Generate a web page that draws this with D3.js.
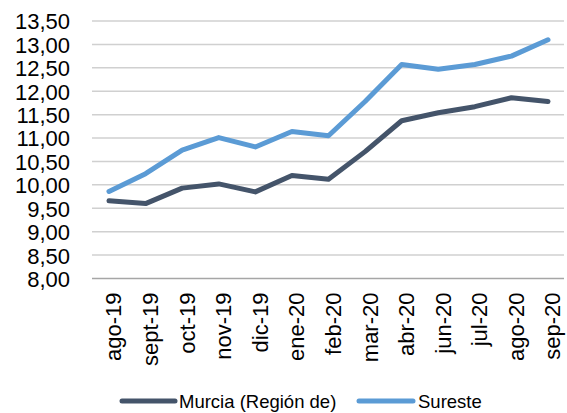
<!DOCTYPE html>
<html><head><meta charset="utf-8">
<script src="https://cdn.jsdelivr.net/npm/d3@7/dist/d3.min.js"></script>
<style>html,body{margin:0;padding:0;background:#fff;}svg{display:block;font-family:"Liberation Sans",Arial,sans-serif;}</style>
</head><body>
<svg id="c" width="567" height="413"></svg>
<script>
const categories = ["ago-19","sept-19","oct-19","nov-19","dic-19","ene-20","feb-20","mar-20","abr-20","jun-20","jul-20","ago-20","sep-20"];
const murcia  = [9.66, 9.60, 9.93, 10.02, 9.85, 10.20, 10.12, 10.71, 11.37, 11.54, 11.67, 11.86, 11.78];
const sureste = [9.86, 10.24, 10.74, 11.01, 10.81, 11.14, 11.05, 11.78, 12.57, 12.47, 12.57, 12.75, 13.10];
const seriesNames = ["Murcia (Región de)", "Sureste"];
const yTicks = [8, 8.5, 9, 9.5, 10, 10.5, 11, 11.5, 12, 12.5, 13, 13.5];
const colors = ["#44546A", "#5B9BD5"];

const svg = d3.select("#c");
const plot = {left: 92, right: 564, top: 21, bottom: 278.5};
const x = d3.scalePoint().domain(categories).range([109, 548]);
const y = d3.scaleLinear().domain([8, 13.5]).range([plot.bottom, plot.top]);
const fmt = v => d3.format(".2f")(v).replace(".", ",");

// gridlines
svg.append("g").selectAll("line").data(yTicks.filter(t => t > 8)).join("line")
  .attr("x1", plot.left).attr("x2", plot.right)
  .attr("y1", d => y(d)).attr("y2", d => y(d))
  .attr("stroke", "#d0d0d0").attr("stroke-width", 1.5);

// y axis labels
const yAxis = d3.axisLeft(y).tickValues(yTicks).tickFormat(fmt).tickSize(0).tickPadding(0);
const yg = svg.append("g").attr("transform", `translate(70,0)`).call(yAxis);
yg.select(".domain").remove();
yg.selectAll("text").attr("font-size", 22).attr("fill", "#000").attr("font-family", "Liberation Sans, Arial, sans-serif").attr("dy", "0.36em");

// x axis baseline
svg.append("line").attr("x1", plot.left).attr("x2", plot.right)
  .attr("y1", plot.bottom).attr("y2", plot.bottom)
  .attr("stroke", "#a6a6a6").attr("stroke-width", 1.5);

// x labels
const xAxis = d3.axisBottom(x).tickSize(0).tickPadding(0);
const xg = svg.append("g").attr("transform", `translate(0,${plot.bottom})`).call(xAxis);
xg.select(".domain").remove();
xg.selectAll("text")
  .attr("font-size", 22).attr("fill", "#000").attr("font-family", "Liberation Sans, Arial, sans-serif")
  .attr("text-anchor", "end")
  .attr("transform", "rotate(-90)")
  .attr("x", -14).attr("y", 4).attr("dy", "0.36em");

// lines
const line = d3.line().x((d, i) => x(categories[i])).y(d => y(d));
[murcia, sureste].forEach((s, k) => {
  svg.append("path").datum(s).attr("d", line)
    .attr("fill", "none").attr("stroke", colors[k]).attr("stroke-width", 5)
    .attr("stroke-linejoin", "round").attr("stroke-linecap", "round");
});

// legend
const legend = [{x1: 122, x2: 175, tx: 179}, {x1: 359, x2: 413, tx: 418}];
legend.forEach((l, k) => {
  svg.append("line").attr("x1", l.x1).attr("x2", l.x2).attr("y1", 401).attr("y2", 401)
    .attr("stroke", colors[k]).attr("stroke-width", 5).attr("stroke-linecap", "round");
  svg.append("text").attr("x", l.tx).attr("y", 401).attr("dy", "0.36em")
    .attr("font-size", 18.5).attr("fill", "#000").text(seriesNames[k]);
});
</script>
</body></html>
